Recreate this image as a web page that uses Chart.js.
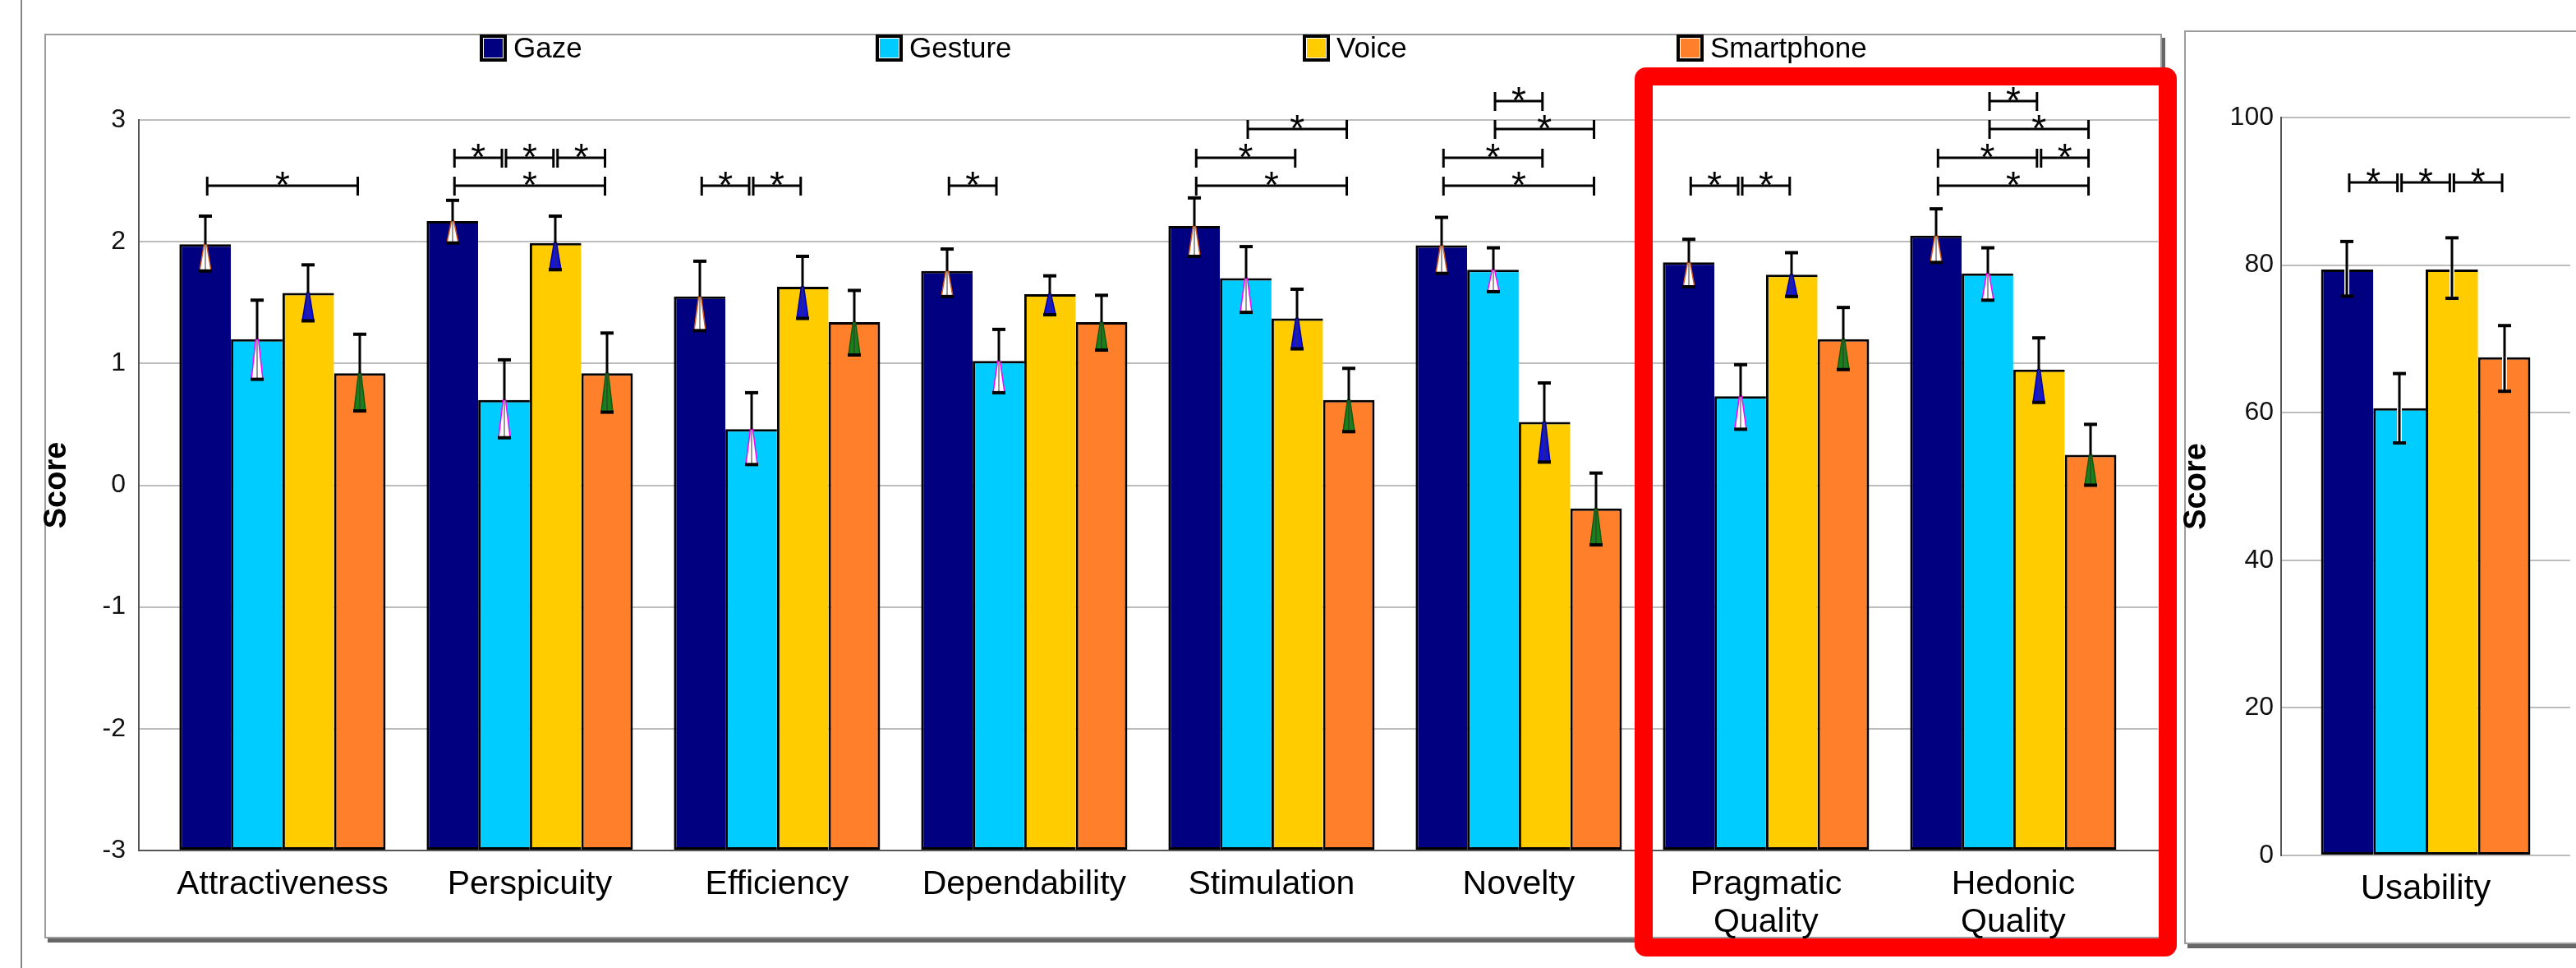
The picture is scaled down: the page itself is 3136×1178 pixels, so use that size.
<!DOCTYPE html>
<html>
<head>
<meta charset="utf-8">
<title>UEQ and SUS scores</title>
<script src="https://cdn.jsdelivr.net/npm/chart.js@4/dist/chart.umd.min.js"></script>
<style>
  html, body { margin: 0; padding: 0; background: #fff; }
  body { position: relative; width: 3136px; height: 1178px; overflow: hidden; }
  .abs { position: absolute; box-sizing: border-box; }
  #frameLine { left: 25px; top: 0; width: 2px; height: 1178px; background: #858585; }
  .panel { border: 2px solid #9c9c9c; box-shadow: 4px 5px 0 #666; background: #fff; }
  #panelMain { left: 54px; top: 41px; width: 2578px; height: 1101px; }
  #panelSus { left: 2659px; top: 37px; width: 600px; height: 1112px; }
  #uxChart { left: 0; top: 0; }
  #susChart { left: 2640px; top: 0; }
  #highlight { left: 1990px; top: 82px; width: 660px; height: 1082px;
               border: 22px solid #ff0000; border-radius: 14px; z-index: 5; }
</style>
</head>
<body>
<div id="frameLine" class="abs"></div>
<div id="panelMain" class="abs panel"></div>
<div id="panelSus" class="abs panel"></div>
<canvas id="uxChart" class="abs" width="2640" height="1178"></canvas>
<canvas id="susChart" class="abs" width="500" height="1178"></canvas>
<div id="highlight" class="abs"></div>

<script>
// UEQ scales
const categories = ['Attractiveness', 'Perspicuity', 'Efficiency', 'Dependability',
                    'Stimulation', 'Novelty', 'Pragmatic Quality', 'Hedonic Quality'];
const seriesNames = ['Gaze', 'Gesture', 'Voice', 'Smartphone'];

const gazeMean    = [1.98, 2.17, 1.55, 1.76, 2.13, 1.97, 1.83, 2.05];
const gazeUpper   = [2.21, 2.34, 1.84, 1.94, 2.36, 2.20, 2.02, 2.27];
const gazeLower   = [1.76, 1.99, 1.27, 1.55, 1.88, 1.74, 1.63, 1.83];

const gestureMean  = [1.20, 0.70, 0.46, 1.02, 1.70, 1.77, 0.73, 1.74];
const gestureUpper = [1.52, 1.03, 0.76, 1.28, 1.96, 1.95, 0.99, 1.95];
const gestureLower = [0.87, 0.39, 0.17, 0.76, 1.42, 1.59, 0.46, 1.52];

const voiceMean   = [1.58, 1.99, 1.63, 1.57, 1.37, 0.52, 1.73, 0.95];
const voiceUpper  = [1.81, 2.21, 1.88, 1.72, 1.61, 0.84, 1.91, 1.21];
const voiceLower  = [1.35, 1.77, 1.37, 1.40, 1.12, 0.19, 1.55, 0.68];

const phoneMean   = [0.92, 0.92, 1.34, 1.34, 0.70, -0.19, 1.20, 0.25];
const phoneUpper  = [1.24, 1.25, 1.60, 1.56, 0.96, 0.10, 1.46, 0.50];
const phoneLower  = [0.61, 0.60, 1.07, 1.11, 0.44, -0.49, 0.95, 0.00];

// significant pairs: [category, series a, series b, bracket row]
const uxSignificance = [
  [0, 0, 3, 0],
  [1, 0, 3, 0], [1, 0, 1, 1], [1, 1, 2, 1], [1, 2, 3, 1],
  [2, 0, 1, 0], [2, 1, 2, 0],
  [3, 0, 1, 0],
  [4, 0, 3, 0], [4, 0, 2, 1], [4, 1, 3, 2],
  [5, 0, 3, 0], [5, 0, 2, 1], [5, 1, 3, 2], [5, 1, 2, 3],
  [6, 0, 1, 0], [6, 1, 2, 0],
  [7, 0, 3, 0], [7, 0, 2, 1], [7, 2, 3, 1], [7, 1, 3, 2], [7, 1, 2, 3]
];

// SUS usability
const susLabels = ['Usability'];
const susMean  = [79.4, 60.6, 79.4, 67.5];
const susUpper = [83.2, 65.3, 83.7, 71.8];
const susLower = [75.8, 55.9, 75.5, 62.9];
const susSignificance = [[0, 0, 1, 0], [0, 1, 2, 0], [0, 2, 3, 0]];

const uxTicks = [-3, -2, -1, 0, 1, 2, 3];

// styles
const colors = ['#000080', '#00ccff', '#ffcc00', '#ff7f2a'];
const whiskerFill = ['#ffffff', '#ffffff', '#1515d8', '#1c7d1c'];
const whiskerEdge = ['#d2561a', '#ff00ff', '#00009a', '#0f5a0f'];
const tickFont = "'Liberation Sans Narrow', 'Liberation Sans', Arial, sans-serif";
Chart.defaults.font.family = "'Liberation Sans', Arial, sans-serif";

const uxMeans = [gazeMean, gestureMean, voiceMean, phoneMean];
const uxUppers = [gazeUpper, gestureUpper, voiceUpper, phoneUpper];
const uxLowers = [gazeLower, gestureLower, voiceLower, phoneLower];

function sideBorders(s) {
  return s < 3 ? { top: 3, left: 3, bottom: 3, right: 0 } : 3;
}

function errorBars(taper) {
  return {
    id: 'errorBars',
    afterDatasetsDraw(chart) {
      const ctx = chart.ctx;
      const ys = chart.scales.y;
      ctx.save();
      chart.data.datasets.forEach((ds, s) => {
        chart.getDatasetMeta(s).data.forEach((bar, i) => {
          const x = Math.round(bar.x);
          const top = ys.getPixelForValue(ds.errUpper[i]);
          const bottom = ys.getPixelForValue(ds.errLower[i]);
          const mid = bar.y;
          if (taper) {
            ctx.beginPath();
            ctx.moveTo(x - 1.5, mid);
            ctx.lineTo(x + 1.5, mid);
            ctx.lineTo(x + 7, bottom);
            ctx.lineTo(x - 7, bottom);
            ctx.closePath();
            ctx.fillStyle = whiskerFill[s];
            ctx.fill();
            ctx.lineWidth = 1.5;
            ctx.strokeStyle = whiskerEdge[s];
            ctx.stroke();
            ctx.beginPath();
            ctx.moveTo(x, mid);
            ctx.lineTo(x, bottom);
            ctx.lineWidth = 1;
            ctx.strokeStyle = '#333';
            ctx.stroke();
          } else {
            ctx.beginPath();
            ctx.moveTo(x, mid);
            ctx.lineTo(x, bottom);
            ctx.lineWidth = 6;
            ctx.strokeStyle = '#fff';
            ctx.stroke();
            ctx.lineWidth = 3;
            ctx.strokeStyle = '#000';
            ctx.stroke();
          }
          ctx.beginPath();
          ctx.moveTo(x, mid);
          ctx.lineTo(x, top);
          ctx.lineWidth = 3;
          ctx.strokeStyle = '#000';
          ctx.stroke();
          ctx.fillStyle = '#000';
          ctx.fillRect(x - 8, top - 2, 16, 4);
          ctx.fillRect(x - 8, bottom - 2, 16, 4);
        });
      });
      ctx.restore();
    }
  };
}

function sigBrackets(pairs, base, step) {
  return {
    id: 'sigBrackets',
    afterDatasetsDraw(chart) {
      const ctx = chart.ctx;
      const ys = chart.scales.y;
      ctx.save();
      ctx.strokeStyle = '#000';
      ctx.fillStyle = '#000';
      ctx.lineWidth = 3;
      ctx.font = "46px 'Liberation Sans', Arial, sans-serif";
      ctx.textAlign = 'center';
      ctx.textBaseline = 'alphabetic';
      pairs.forEach(([cat, a, b, row]) => {
        const xa = chart.getDatasetMeta(a).data[cat].x + 2.5;
        const xb = chart.getDatasetMeta(b).data[cat].x - 2.5;
        const yy = Math.round(ys.getPixelForValue(base + row * step));
        ctx.beginPath();
        ctx.moveTo(xa, yy); ctx.lineTo(xb, yy);
        ctx.moveTo(xa, yy - 11); ctx.lineTo(xa, yy + 12);
        ctx.moveTo(xb, yy - 11); ctx.lineTo(xb, yy + 12);
        ctx.stroke();
        ctx.fillText('*', (xa + xb) / 2, yy + 15);
      });
      ctx.restore();
    }
  };
}

const legendRow = {
  id: 'legendRow',
  afterDraw(chart) {
    const ctx = chart.ctx;
    const boxX = [584, 1066, 1586, 2041];
    ctx.save();
    ctx.font = "35px 'Liberation Sans', Arial, sans-serif";
    ctx.textBaseline = 'middle';
    ctx.textAlign = 'left';
    chart.data.datasets.forEach((ds, s) => {
      const x = boxX[s];
      ctx.fillStyle = '#000';
      ctx.fillRect(x, 42, 33, 33);
      ctx.fillStyle = '#fff';
      ctx.fillRect(x + 4, 46, 25, 25);
      ctx.fillStyle = ds.backgroundColor;
      ctx.fillRect(x + 5, 47, 23, 23);
      ctx.fillStyle = '#000';
      ctx.fillText(ds.label, x + 41, 60);
    });
    ctx.restore();
  }
};

new Chart(document.getElementById('uxChart'), {
  type: 'bar',
  data: {
    datasets: seriesNames.map((name, s) => ({
      label: name,
      data: uxMeans[s].map((v, i) => ({ x: i, y: v })),
      errUpper: uxUppers[s],
      errLower: uxLowers[s],
      base: -3,
      backgroundColor: colors[s],
      borderColor: '#000',
      borderWidth: sideBorders(s),
      borderSkipped: false,
      categoryPercentage: 0.834,
      barPercentage: 1
    }))
  },
  options: {
    responsive: false,
    animation: false,
    layout: { padding: { top: 146, bottom: 13, left: 0, right: 13 } },
    plugins: { legend: { display: false }, tooltip: { enabled: false } },
    scales: {
      x: {
        type: 'linear',
        min: -0.581,
        max: 7.585,
        offset: false,
        afterBuildTicks: (axis) => { axis.ticks = categories.map((_, i) => ({ value: i })); },
        afterFit: (axis) => { axis.height = 130; },
        grid: { display: false, drawTicks: false },
        border: { display: true, color: '#555', width: 2 },
        ticks: {
          autoSkip: false,
          maxRotation: 0,
          padding: 19,
          color: '#000',
          font: { size: 41, lineHeight: 1.12 },
          callback: (v) => {
            const label = categories[v];
            return label.includes(' ') ? label.split(' ') : label;
          }
        }
      },
      y: {
        min: uxTicks[0],
        max: uxTicks[uxTicks.length - 1],
        afterFit: (axis) => { axis.width = 169; },
        ticks: { stepSize: 1, padding: 16, color: '#111', font: { family: tickFont, size: 32 } },
        grid: { color: '#bdbdbd', lineWidth: 2, drawTicks: false },
        border: { color: '#555', width: 2 },
        title: {
          display: true,
          text: 'Score',
          color: '#000',
          font: { size: 38, weight: 'bold', lineHeight: 1.2 },
          padding: { top: 47, bottom: 0 }
        }
      }
    }
  },
  plugins: [errorBars(true), sigBrackets(uxSignificance, 2.46, 0.232), legendRow]
});

new Chart(document.getElementById('susChart'), {
  type: 'bar',
  data: {
    labels: susLabels,
    datasets: seriesNames.map((name, s) => ({
      label: name,
      data: [susMean[s]],
      errUpper: [susUpper[s]],
      errLower: [susLower[s]],
      backgroundColor: colors[s],
      borderColor: '#000',
      borderWidth: sideBorders(s),
      borderSkipped: false,
      categoryPercentage: 0.724,
      barPercentage: 1
    }))
  },
  options: {
    responsive: false,
    animation: false,
    layout: { padding: { top: 143, bottom: 17, left: 0, right: 11 } },
    plugins: { legend: { display: false }, tooltip: { enabled: false } },
    scales: {
      x: {
        afterFit: (axis) => { axis.height = 120; },
        grid: { display: false, drawTicks: false },
        border: { display: false },
        ticks: { padding: 18, color: '#000', font: { size: 42, lineHeight: 1.12 } }
      },
      y: {
        min: 0,
        max: 100,
        afterFit: (axis) => { axis.width = 137; },
        ticks: { stepSize: 20, padding: 9, color: '#111', font: { family: tickFont, size: 32 } },
        grid: { color: '#bdbdbd', lineWidth: 2, drawTicks: false },
        border: { color: '#555', width: 2 },
        title: {
          display: true,
          text: 'Score',
          color: '#000',
          font: { size: 38, weight: 'bold', lineHeight: 1.2 },
          padding: { top: 12, bottom: 0 }
        }
      }
    }
  },
  plugins: [errorBars(false), sigBrackets(susSignificance, 91.2, 3)]
});
</script>
</body>
</html>
